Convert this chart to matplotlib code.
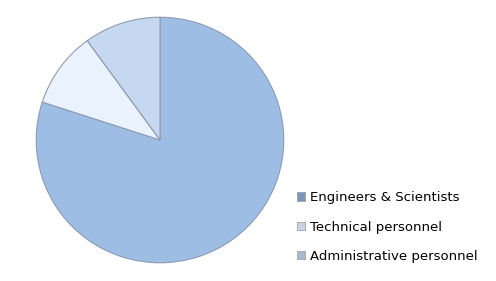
import matplotlib
matplotlib.use("Agg")
import matplotlib.pyplot as plt
from matplotlib.patches import Patch

labels = ["Engineers & Scientists", "Technical personnel", "Administrative personnel"]
shares = [80, 10, 10]
colors = ["#9dbde5", "#eaf3fd", "#c6d8f0"]
marker_colors = ["#7d95b8", "#c9d2de", "#a7b8d1"]

plt.rcParams["font.family"] = ["DejaVu Sans"]

fig = plt.figure(figsize=(4.96, 2.81), dpi=100)
ax = fig.add_axes([35 / 496, 17 / 281, 250 / 496, 248 / 281])
ax.pie(shares, colors=colors, startangle=90, counterclock=False,
       wedgeprops={"edgecolor": "#8d9cb0", "linewidth": 0.8})
ax.set_xlim(-1.01, 1.01)
ax.set_ylim(-1.01, 1.01)
ax.set_aspect("auto")
ax.axis("off")

handles = [Patch(facecolor=c, edgecolor="#9aa3ad", linewidth=0.6) for c in marker_colors]
fig.legend(handles, labels, loc="upper left", bbox_to_anchor=(292 / 496, 1 - 186 / 281),
           frameon=False, fontsize=9.5, handlelength=0.6, handleheight=0.6,
           handletextpad=0.35, labelspacing=1.23, borderaxespad=0)

fig.savefig("out.png", dpi=100)
